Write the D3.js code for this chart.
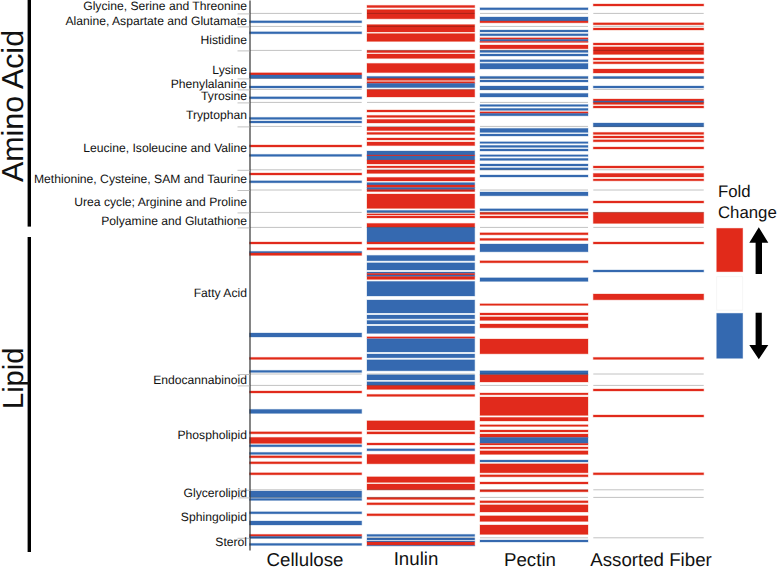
<!DOCTYPE html>
<html>
<head>
<meta charset="utf-8">
<script src="https://cdn.jsdelivr.net/npm/d3@7"></script>
<style>
  body { margin: 0; background: #fff; }
  text { font-family: "Liberation Sans", Arial, sans-serif; fill: #111; text-rendering: geometricPrecision; }
</style>
</head>
<body>
<div id="chart"></div>
<script>
// row units run top to bottom, each metabolite row is about one unit tall
const rowCount = 275;

const categories = ["Cellulose", "Inulin", "Pectin", "Assorted Fiber"];

// [first row, last row, direction of fold change]
const cellulose = [
  [10.4, 11.4, -1], [15.9, 16.9, -1], [36.4, 37.5, 1], [37.5, 39.2, -1], [43, 44, -1], [48.4, 49.4, -1],
  [58.7, 59.7, -1], [60.5, 61.5, -1], [72.5, 73.5, 1], [77.2, 78.2, -1], [86.5, 87.5, 1], [90.4, 91.4, -1],
  [121, 122, 1], [125.7, 126.5, -1], [126.5, 127.7, 1], [166.5, 168.5, -1], [178.7, 179.7, 1], [185.2, 186.2, -1],
  [195.5, 196.5, 1], [204.7, 206.7, -1], [215.9, 216.9, 1], [218.7, 221.7, 1], [222.4, 223.4, -1], [226.2, 227.2, -1],
  [227.9, 228.9, 1], [230.9, 231.9, 1], [236.4, 237.4, 1], [245.5, 248.7, -1], [249.2, 250.2, -1], [255.9, 256.9, -1],
  [260.5, 262.5, -1], [267.2, 268.2, 1], [268.2, 269.2, -1], [271.7, 272.7, -1]
];

const inulin = [
  [2.7, 3.8, 1], [4.8, 9.4, 1], [12.3, 16, 1], [16.8, 20.7, 1], [25.2, 26.3, 1], [27, 29.2, 1], [31.7, 36.3, 1],
  [38.2, 39.2, -1], [39.2, 40.2, 1], [40.8, 41.7, 1], [41.7, 43.8, -1], [44.8, 48.5, 1], [55, 56, 1], [57.7, 58.7, 1],
  [59.7, 61.5, 1], [63.5, 65.3, 1], [66.2, 67.2, 1], [69, 70, 1], [71, 72.8, 1], [75.5, 77.5, -1], [77.5, 78, 1],
  [78, 80, -1], [80, 82, 1], [83, 83.9, 1], [85, 86.7, 1], [88.7, 90.5, 1], [91.3, 92.5, -1], [92.5, 93.8, 1],
  [93.8, 94.8, -1], [94.8, 95.8, 1], [97, 104.2, 1], [105.2, 106.2, -1], [106.9, 107.5, 1], [108, 109, 1],
  [111.7, 113.7, 1], [113.7, 121, -1], [121, 122, 1], [123.9, 124.9, 1], [127.7, 130.4, -1], [131.4, 135, -1],
  [136, 136.7, -1], [136.7, 137.5, 1], [137.5, 138.3, -1], [138.3, 139.7, 1], [140.7, 148, -1], [150, 156.5, -1],
  [157.5, 159.4, -1], [160.2, 162, -1], [163, 166.7, -1], [168.4, 169.2, 1], [169.4, 176, -1], [177, 178.9, -1],
  [179.9, 185.4, -1], [187.4, 190, -1], [190.9, 192.7, -1], [192.7, 194.7, 1], [197.2, 198.2, 1], [210.4, 215, 1],
  [215.9, 217, 1], [221.5, 222.5, 1], [224.4, 225.4, -1], [227.2, 231.9, 1], [238.4, 241.2, 1], [242, 244.9, 1],
  [248.7, 249.7, 1], [251.4, 252.4, 1], [256.9, 257.9, 1], [267.2, 268.2, -1], [269, 270, -1], [270.5, 271, -1],
  [271, 272.7, 1], [272.7, 273, -1]
];

const pectin = [
  [3.9, 4.9, -1], [8.5, 10.5, -1], [10.5, 11.4, 1], [15, 16, -1], [16.9, 17.9, -1], [18.9, 19.7, 1], [19.7, 20.7, -1],
  [20.7, 21.2, 1], [22.5, 24.4, 1], [25.2, 26.2, -1], [27, 28, -1], [29.9, 30.9, -1], [31.7, 34.5, -1], [38.2, 39.2, -1],
  [40, 41, -1], [43, 44.9, -1], [46.7, 48.5, -1], [52.3, 53.2, -1], [54.2, 55.2, -1], [55.9, 56.7, 1], [56.7, 57.9, -1],
  [64.2, 66.2, -1], [67, 68, -1], [70.9, 71.7, -1], [72.7, 73.7, -1], [74.5, 75.5, -1], [77.4, 78.2, -1], [79.2, 80.2, -1],
  [82, 83, -1], [83.9, 84.9, -1], [87.5, 88.5, -1], [96, 97.9, -1], [104.4, 105.4, -1], [106.2, 107.2, 1], [108, 109, 1],
  [116.4, 117.4, 1], [119.2, 120.2, 1], [122, 125.9, -1], [130.4, 131.4, 1], [138.9, 140.7, -1], [151.9, 152.7, 1],
  [156.5, 157.5, 1], [158.4, 160.2, 1], [162, 163.9, 1], [169.5, 176.9, 1], [185.4, 187.4, -1], [187.4, 191, 1],
  [196.5, 197.4, 1], [198.5, 207.7, 1], [208.7, 210.5, 1], [212.4, 213.2, 1], [215, 216, 1], [217, 218.7, 1],
  [218.7, 221.7, -1], [221.7, 222.5, 1], [223.5, 224.4, 1], [225.4, 227.2, 1], [230, 231, -1], [231.9, 236.4, 1],
  [237.4, 238.4, 1], [241, 242, 1], [244.9, 245.9, 1], [250.4, 251.4, 1], [252.4, 256, 1], [257.9, 260.7, 1],
  [262.5, 267.2, 1], [270, 271, -1]
];

const assortedFiber = [
  [2, 3, 1], [11.4, 12.4, 1], [14, 15, 1], [21.5, 22.5, 1], [23.4, 27.2, 1], [29, 30, 1], [30.9, 31.9, 1], [34.5, 36.5, 1],
  [38.2, 39.2, -1], [43, 44, -1], [49.5, 50.5, 1], [50.5, 51.2, -1], [51.2, 52.2, 1], [53, 54, 1], [61.5, 63.4, -1],
  [66.2, 67.2, 1], [68, 69, 1], [69.9, 70.9, 1], [73.5, 74.5, 1], [83, 84, 1], [86.7, 88.5, 1], [89.5, 90.4, 1],
  [100.5, 101.5, 1], [106.2, 111.7, 1], [121, 122, 1], [135, 136, -1], [147, 149.9, 1], [178.7, 179.7, 1],
  [194.5, 195.5, 1], [207.5, 208.5, 1], [236.4, 237.4, 1]
];

const pathways = [
  "Glycine, Serine and Threonine", "Alanine, Aspartate and Glutamate", "Histidine", "Lysine", "Phenylalanine",
  "Tyrosine", "Tryptophan", "Leucine, Isoleucine and Valine", "Methionine, Cysteine, SAM and Taurine",
  "Urea cycle; Arginine and Proline", "Polyamine and Glutathione", "Fatty Acid", "Endocannabinoid",
  "Phospholipid", "Glycerolipid", "Sphingolipid", "Sterol"
];
const pathwayRows = [3, 10.35, 20, 35, 41.7, 48, 57.5, 73.7, 89.5, 100.7, 110.4, 146.5, 190, 217.5, 246.5, 258.5, 271];
const pathwayBreaks = [6.7, 13.2, 25.2, 39.2, 44.7, 51.2, 63.2, 84.9, 95, 106.2, 113.7, 187, 192.7, 244.9, 248.7, 268.9];

const groupNames = ["Amino Acid", "Lipid"];
const groupSpans = [[0, 113.3], [118.5, 276]];

const foldValues = [1, 0, -1];

const width = 778;
const height = 570;

const svg = d3
  .select("#chart")
  .append("svg")
  .attr("width", width)
  .attr("height", height)
  .style("display", "block");

// the source figure is a slightly soft raster
svg.append("defs")
  .append("filter")
  .attr("id", "soft")
  .append("feGaussianBlur")
  .attr("stdDeviation", 0.3);

const y = d3.scaleLinear().domain([0, rowCount]).range([0, 550]);
const color = d3.scaleOrdinal().domain(foldValues).range(["#e12a1a", "#ffffff", "#3469b0"]);

// columns are not evenly spaced in the figure
const colLeft = d3.scaleOrdinal().domain(categories).range([249.5, 367, 480, 593.3]);
const colRight = d3.scaleOrdinal().domain(categories).range([361.7, 474.7, 588, 703.7]);
const colLabelX = d3.scaleOrdinal().domain(categories).range([305, 416, 530, 651]);
const colLabelY = d3.scaleOrdinal().domain(categories).range([565.5, 565, 566, 566]);

const columns = [cellulose, inulin, pectin, assortedFiber];

categories.forEach((name, i) => {
  const g = svg.append("g").attr("class", "column").attr("filter", "url(#soft)");

  g.selectAll("rect")
    .data(columns[i])
    .join("rect")
    .attr("x", colLeft(name))
    .attr("width", colRight(name) - colLeft(name))
    .attr("y", (d) => y(d[0]))
    .attr("height", (d) => y(d[1]) - y(d[0]))
    .attr("fill", (d) => color(d[2]))
    .attr("stroke", (d) => color(d[2]))
    .attr("stroke-opacity", 0.3)
    .attr("stroke-width", 1);

  // pathway separators show through the cells
  g.selectAll("line")
    .data(pathwayBreaks)
    .join("line")
    .attr("x1", colLeft(name))
    .attr("x2", colRight(name))
    .attr("y1", (d) => y(d))
    .attr("y2", (d) => y(d))
    .attr("stroke", "#c2c2c2")
    .attr("stroke-width", 1)
    .style("mix-blend-mode", "multiply");

  svg.append("text")
    .attr("x", colLabelX(name))
    .attr("y", colLabelY(name))
    .attr("text-anchor", "middle")
    .style("font-size", "18.7px")
    .text(name);
});

// left axis carries the separator ticks
const axis = svg
  .append("g")
  .attr("transform", "translate(249.5,0)")
  .call(d3.axisLeft(y).tickValues(pathwayBreaks).tickSize(12).tickSizeOuter(0).tickFormat(""));
axis.select(".domain").attr("stroke", "#333").attr("stroke-width", 1.2);
axis.selectAll(".tick line").attr("stroke", "#c2c2c2");

svg.append("g")
  .selectAll("text")
  .data(pathways)
  .join("text")
  .attr("x", 247)
  .attr("y", (d, i) => y(pathwayRows[i]))
  .attr("dy", "0.36em")
  .attr("text-anchor", "end")
  .style("font-size", "12.15px")
  .text((d) => d);

// group bars and rotated names
groupNames.forEach((name, i) => {
  const [a, b] = groupSpans[i];
  svg.append("rect")
    .attr("x", 27.6)
    .attr("width", 3.4)
    .attr("y", y(a))
    .attr("height", y(b) - y(a))
    .attr("fill", "#000");
});
svg.append("text")
  .attr("transform", "translate(23,182) rotate(-90)")
  .style("font-size", "30.4px")
  .text(groupNames[0]);
svg.append("text")
  .attr("transform", "translate(22.5,409) rotate(-90)")
  .style("font-size", "29px")
  .text(groupNames[1]);

// legend
const legend = svg.append("g").attr("class", "legend");
legend.append("text").attr("x", 718).attr("y", 196.5).style("font-size", "16.8px").text("Fold");
legend.append("text").attr("x", 718).attr("y", 218).style("font-size", "16.8px").text("Change");

const swatchY = d3.scaleOrdinal().domain(foldValues).range([228.3, 276.7, 313.3]);
const swatchH = d3.scaleOrdinal().domain(foldValues).range([43.4, 33.4, 45]);
legend.selectAll("rect")
  .data(foldValues)
  .join("rect")
  .attr("x", 716.7)
  .attr("width", 26)
  .attr("y", (d) => swatchY(d))
  .attr("height", (d) => swatchH(d))
  .attr("fill", (d) => color(d))
  .attr("stroke", (d) => (d === 0 ? "#f4f4f4" : color(d)))
  .attr("stroke-opacity", (d) => (d === 0 ? 1 : 0.4))
  .attr("stroke-width", 0.8);

legend.append("path")
  .attr("d", "M758.8,227.3L768.3,242.7L762,242.7L762,274L755.6,274L755.6,242.7L749.3,242.7Z")
  .attr("fill", "#000");
legend.append("path")
  .attr("d", "M758.8,359.3L768.3,345L761.8,345L761.8,312.7L755.6,312.7L755.6,345L749.3,345Z")
  .attr("fill", "#000");
</script>
</body>
</html>
